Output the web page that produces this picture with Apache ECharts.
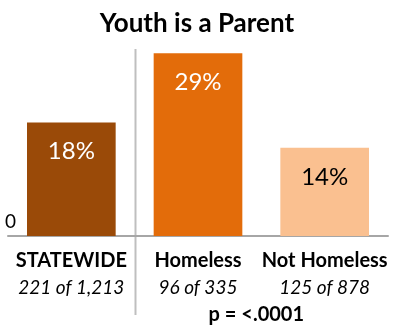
<!DOCTYPE html>
<html>
<head>
<meta charset="utf-8">
<script src="https://cdn.jsdelivr.net/npm/echarts@6/dist/echarts.min.js"></script>
<style>
  html, body { margin: 0; padding: 0; background: #fff; }
  #chart { width: 394px; height: 326px; }
</style>
</head>
<body>
<div id="chart"></div>
<script>
// Share of youth who are parents, by group
const groups = ['STATEWIDE', 'Homeless', 'Not Homeless'];
const counts = ['221 of 1,213', '96 of 335', '125 of 878'];
const percents = [18, 29, 14];
const barColors = ['#9A4A08', '#E36C0A', '#FAC090'];
const labelColors = ['#FFFFFF', '#FFFFFF', '#000000'];
const pValue = 'p = <.0001';

const FONT = 'Lato, "Open Sans", sans-serif';

const chart = echarts.init(document.getElementById('chart'));

const option = {
  animation: false,
  textStyle: { fontFamily: FONT },
  title: {
    text: 'Youth is a Parent',
    left: 'center',
    top: 6,
    textStyle: { fontFamily: FONT, fontSize: 26, fontWeight: 'bold', color: '#000' }
  },
  grid: { left: 8, right: 6, top: 47, bottom: 90 },
  xAxis: {
    type: 'category',
    data: groups,
    axisTick: { show: false },
    axisLine: { lineStyle: { color: '#A6A6A6', width: 2 } },
    axisLabel: {
      interval: 0,
      margin: 11,
      formatter: (v, i) => '{b|' + v + '}\n{i|' + counts[i] + '}',
      rich: {
        b: { fontFamily: FONT, fontSize: 20, fontWeight: 'bold', color: '#000', lineHeight: 27 },
        i: { fontFamily: FONT, fontSize: 19, fontStyle: 'italic', color: '#000', lineHeight: 27 }
      }
    }
  },
  yAxis: {
    type: 'value',
    min: 0,
    max: 30,
    interval: 30,
    splitLine: { show: false },
    axisLine: { show: false },
    axisTick: { show: false },
    axisLabel: {
      margin: -8,
      verticalAlign: 'bottom',
      padding: [0, 0, 5, 0],
      fontFamily: FONT,
      fontSize: 19,
      color: '#000',
      formatter: v => (v === 0 ? '0' : '')
    }
  },
  series: [{
    type: 'bar',
    barWidth: '70%',
    data: percents.map((v, i) => ({
      value: v,
      itemStyle: { color: barColors[i] },
      label: { color: labelColors[i] }
    })),
    label: {
      show: true,
      position: 'insideTop',
      distance: 17,
      fontFamily: FONT,
      fontSize: 24,
      formatter: p => p.value + '%'
    }
  }]
};

chart.setOption(option);

// Divider between the statewide bar and the subgroup bars, plus the p-value note
const x0 = chart.convertToPixel({ xAxisIndex: 0 }, groups[0]);
const x1 = chart.convertToPixel({ xAxisIndex: 0 }, groups[1]);
const x2 = chart.convertToPixel({ xAxisIndex: 0 }, groups[2]);
const divX = Math.round((x0 + x1) / 2) + 0.5;
chart.setOption({
  graphic: [
    {
      type: 'line',
      shape: { x1: divX, y1: 49, x2: divX, y2: 315 },
      style: { stroke: '#BFBFBF', lineWidth: 2 },
      z: 0
    },
    {
      type: 'text',
      x: (x1 + x2) / 2 - 5,
      y: 305,
      style: {
        text: pValue,
        fontFamily: FONT,
        fontSize: 20,
        fontWeight: 'bold',
        fill: '#000',
        textAlign: 'center',
        textVerticalAlign: 'top'
      }
    }
  ]
});
</script>
</body>
</html>
